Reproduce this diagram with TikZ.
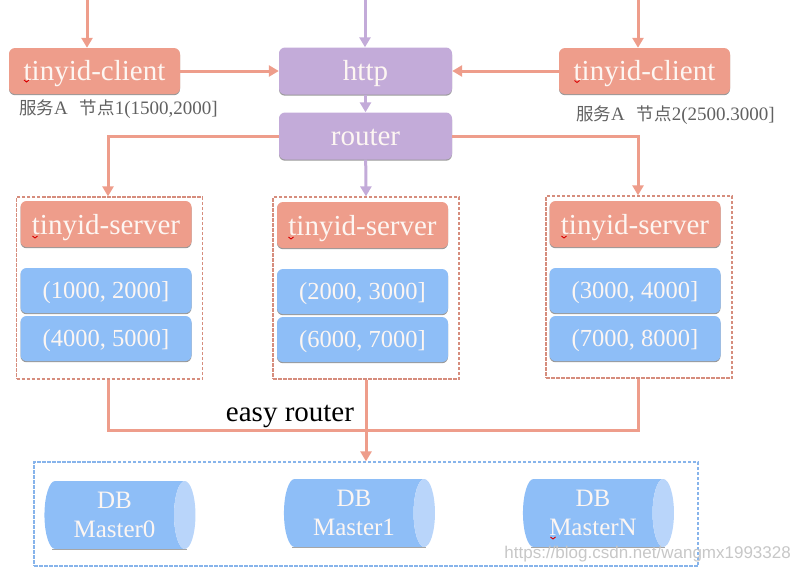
\documentclass[tikz,border=0pt]{standalone}
\usepackage{fontspec}
\setmainfont{Liberation Serif}
\setsansfont{Liberation Sans}
\newfontfamily\cjk[Scale=0.92]{Noto Sans CJK SC}
\usetikzlibrary{arrows.meta,shapes.geometric,shadows}
\definecolor{salmon}{HTML}{EE9D8B}
\definecolor{lilac}{HTML}{C3ABD9}
\definecolor{skyblue}{HTML}{8EBEF7}
\definecolor{paleblue}{HTML}{B9D5FA}
\definecolor{lighttext}{HTML}{FDF6F2}
\tikzset{
  x=1pt, y=-1pt,
  boxed/.style = { rounded corners=6pt, text=lighttext, font=\fontsize{29}{30}\selectfont, inner sep=0pt,
                   text height=18pt, text depth=0pt,
                   drop shadow={shadow xshift=0pt, shadow yshift=-1.2pt, fill=black, opacity=0.4} },
  client/.style = { boxed, fill=salmon, minimum width=171pt, minimum height=46pt },
  gatebox/.style = { boxed, fill=lilac, minimum width=173pt, minimum height=47pt },
  server/.style = { boxed, fill=salmon, minimum width=171pt, minimum height=46pt, text height=20pt },
  rangebox/.style = { boxed, fill=skyblue, minimum width=171pt, minimum height=45pt, text height=15pt,
                      font=\fontsize{24.5}{26}\selectfont },
  groupbox/.style = { draw=salmon!90!black, dash pattern=on 3.5pt off 1.5pt, line width=1.3pt, minimum width=186pt, minimum height=182pt },
  dbgroup/.style = { draw=skyblue!95!black, dash pattern=on 3.5pt off 1.5pt, line width=1.3pt, minimum width=664pt, minimum height=104pt },
  db/.style = { cylinder, shape aspect=0.47, minimum width=68pt, minimum height=151pt, inner sep=0pt, text=lighttext,
                cylinder uses custom fill, cylinder body fill=skyblue, cylinder end fill=paleblue,
                align=center, font=\fontsize{25}{29}\selectfont },
  dbedge/.style = { color=black!35, line width=0.8pt },
  note/.style = { text=black!62, inner sep=0pt, font=\fontsize{19}{20}\selectfont },
  wire/.style = { line width=3pt, color=salmon },
  arrow/.style = { wire, -{Triangle[length=10pt,width=11pt]} },
  parrow/.style = { arrow, color=lilac },
  squiggle/.style = { color=red!85!black, line width=0.9pt }
}
\begin{document}
\begin{tikzpicture}
  \useasboundingbox (0,0) rectangle (800,573);

  \coordinate (top1) at (87,0);
  \coordinate (top2) at (365,0);
  \coordinate (top3) at (638,0);
  \coordinate (busjoin) at (365,430);

  \node[client] (client1) at (94.5,71) {tinyid-client};
  \node[gatebox] (http) at (365.5,71) {http};
  \node[client] (client2) at (644.5,71) {tinyid-client};
  \node[gatebox] (router) at (365.5,136) {router};

  \node[note, anchor=west] (note1) at (19,109) {{\cjk 服务}A\hspace{12pt}{\cjk 节点}1(1500,2000]};
  \node[note, anchor=west] (note2) at (576,115) {{\cjk 服务}A\hspace{12pt}{\cjk 节点}2(2500.3000]};

  \node[groupbox] (box1) at (109.5,288) {};
  \node[groupbox] (box2) at (366,288) {};
  \node[groupbox] (box3) at (639,287) {};

  \node[server] (server1) at (106,224) {tinyid-server};
  \node[server] (server2) at (362.5,225) {tinyid-server};
  \node[server] (server3) at (635,224) {tinyid-server};

  \node[rangebox] (range11) at (106,290.5) {(1000, 2000]};
  \node[rangebox] (range12) at (106,338.5) {(4000, 5000]};
  \node[rangebox] (range21) at (362.5,291.5) {(2000, 3000]};
  \node[rangebox] (range22) at (362.5,339.5) {(6000, 7000]};
  \node[rangebox] (range31) at (635,290.5) {(3000, 4000]};
  \node[rangebox] (range32) at (635,338.5) {(7000, 8000]};

  \node[dbgroup] (dbbox) at (366,514) {};
  \node[db] (db0) at (114.5,515) {DB\\Master0};
  \node[db] (db1) at (354,513) {DB\\Master1};
  \node[db] (dbn) at (593,513) {DB\\MasterN};
  \draw [dbedge] (52,549.5) -- (187,549.5);
  \draw [dbedge] (292,547.5) -- (426,547.5);
  \draw [dbedge] (531,547.5) -- (665,547.5);

  \node[inner sep=0pt, font=\fontsize{29}{30}\selectfont] (easy) at (290,416) {easy router};

  \draw [arrow] (top1) -- (top1 |- client1.north);
  \draw [parrow] (top2) -- (top2 |- http.north);
  \draw [arrow] (top3) -- (top3 |- client2.north);
  \draw [arrow] (client1) -- (http);
  \draw [arrow] (client2) -- (http);
  \draw [parrow] (http) -- (router);

  \draw [arrow] (router.west) -| ([xshift=-1.5pt]box1.north);
  \draw [parrow] (router) -- (box2.north);
  \draw [arrow] (router.east) -| ([xshift=-1pt]box3.north);

  \draw [wire] ([xshift=-1.5pt]box1.south) |- (busjoin);
  \draw [wire] ([xshift=-1pt]box3.south) |- (busjoin);
  \draw [arrow] (box2.south) -- (dbbox.north);

  \foreach \px/\py in {26.5/81, 577/81.5, 35/237, 291/238, 564/237, 553/538}
    \draw [squiggle] (\px-2.5,\py-1) -- (\px,\py+1) -- (\px+2.5,\py-1);

  \node[anchor=east, inner sep=0pt, text=black!22, font=\sffamily\fontsize{17}{20}\selectfont] (mark) at (791,554) {https://blog.csdn.net/wangmx1993328};
\end{tikzpicture}
\end{document}
